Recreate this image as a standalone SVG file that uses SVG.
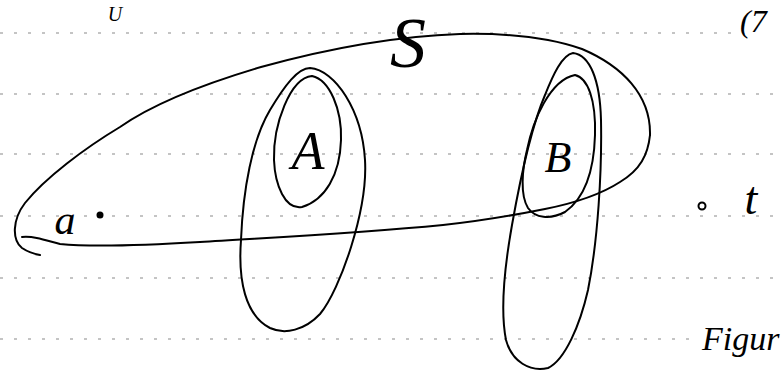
<svg xmlns="http://www.w3.org/2000/svg" width="781" height="382" viewBox="0 0 781 382">
<style>
.ink{fill:none;stroke:#000;stroke-width:2;stroke-linecap:round;stroke-linejoin:round}
.rule{fill:none;stroke:#8a8a8a;stroke-width:1.2;stroke-dasharray:3 11}
.hand{font-family:"Liberation Serif",serif;font-style:italic;fill:#000}
</style>
<rect width="781" height="382" fill="#fff"/>
<g id="ruling">
<line class="rule" x1="0" y1="33" x2="736" y2="33"/>
<line class="rule" x1="0" y1="94" x2="781" y2="94"/>
<line class="rule" x1="0" y1="154" x2="781" y2="154"/>
<line class="rule" x1="0" y1="216" x2="781" y2="216"/>
<line class="rule" x1="0" y1="278" x2="781" y2="278"/>
<line class="rule" x1="0" y1="339" x2="698" y2="339"/>
</g>
<g id="set-S">
<path class="ink" d="M650,135 C651,95 622,66 582,49 C548,37 505,33 460,34 C400,36 330,48 261,67 C200,85 150,106 120,127 C85,148 45,178 25,203 C12,220 12,240 22,248 C28,252 34,254 40,255"/>
<path class="ink" d="M22,237 C35,236 45,240 60,244 C90,247 150,245 200,242 C260,238 350,234 443,225 C490,220 520,214 545,209 C575,203 600,195 620,182 C640,170 648,155 650,135"/>
<text class="hand" x="408" y="67" font-size="72" text-anchor="middle">S</text>
</g>
<g id="set-A-outer">
<path class="ink" d="M310,68 C335,70 362,110 365,160 C368,210 340,290 320,314 C305,330 285,335 270,328 C245,315 238,280 241,240 C243,190 252,140 270,110 C285,85 298,68 310,68 Z"/>
</g>
<g id="set-A">
<path class="ink" d="M312,76 C330,80 342,110 341,140 C340,175 325,200 302,207 C285,210 275,185 274,160 C273,125 290,78 312,76 Z"/>
<text class="hand" x="308" y="169" font-size="54" text-anchor="middle">A</text>
</g>
<g id="set-B-outer">
<path class="ink" d="M573,53 C590,55 600,80 601,120 C602,170 598,240 588,290 C580,325 565,360 548,368 C530,372 512,362 506,340 C500,310 504,270 512,225 C520,180 530,130 545,95 C553,75 562,55 573,53 Z"/>
</g>
<g id="set-B">
<path class="ink" d="M575,75 C588,78 596,100 595,135 C594,170 585,198 565,212 C550,220 535,218 528,208 C520,195 522,170 527,150 C533,120 550,80 575,75 Z"/>
<text class="hand" x="558" y="172" font-size="44" text-anchor="middle">B</text>
</g>
<g id="point-a">
<text class="hand" x="65" y="234" font-size="42" text-anchor="middle">a</text>
<circle cx="100" cy="215" r="3.5" fill="#000"/>
</g>
<g id="point-t">
<circle cx="702" cy="206" r="3.5" fill="none" stroke="#000" stroke-width="2"/>
<text class="hand" x="751" y="214" font-size="46" text-anchor="middle">t</text>
</g>
<g id="connectors"></g>
<g id="margin-text">
<text class="hand" x="115" y="21" font-size="20" text-anchor="middle">U</text>
<text class="hand" x="740" y="32" font-size="32">(7</text>
<text class="hand" x="702" y="350" font-size="34">Figur</text>
</g>
</svg>
